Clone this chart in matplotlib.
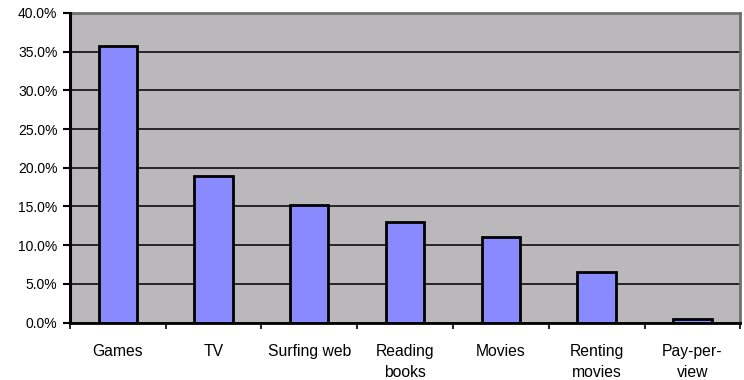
import matplotlib
matplotlib.use("Agg")
import matplotlib.pyplot as plt
from matplotlib.ticker import FuncFormatter, MultipleLocator

categories = ["Games", "TV", "Surfing web", "Reading\nbooks", "Movies", "Renting\nmovies", "Pay-per-\nview"]
shares = [35.7, 18.9, 15.2, 13.0, 11.1, 6.5, 0.5]

plt.rcParams["font.family"] = ["Liberation Sans", "DejaVu Sans"]

fig = plt.figure(figsize=(7.44, 3.80), dpi=100)
ax = fig.add_axes([0.094, 0.151, 0.901, 0.815])

x = range(len(categories))
ax.bar(x, shares, width=0.4, color="#8A8AFF", edgecolor="black", linewidth=2.0, zorder=3)

ax.set_facecolor("#BAB8BB")
ax.set_xlim(-0.5, len(categories) - 0.5)
ax.set_ylim(0, 40)
ax.yaxis.set_major_locator(MultipleLocator(5))
ax.yaxis.set_major_formatter(FuncFormatter(lambda v, p: f"{v:.1f}%"))
ax.grid(axis="y", color="#1a1a1a", linewidth=1.3, zorder=1)

# category boundaries as ticks, labels centred under each bar
ax.set_xticks([i - 0.5 for i in range(len(categories) + 1)])
ax.set_xticklabels([])
ax.set_xticks(list(x), minor=True)
ax.set_xticklabels(categories, minor=True, fontsize=11.3, linespacing=1.5)
ax.tick_params(axis="x", which="minor", length=0, pad=15.5)
ax.tick_params(axis="x", which="major", length=4, width=1.2, direction="out", color="black")
ax.tick_params(axis="y", length=5, width=1.5, direction="out", labelsize=10, pad=4, color="black")

for side in ("top", "right"):
    ax.spines[side].set_color("#707070")
    ax.spines[side].set_linewidth(2.0)
ax.spines["left"].set_color("black")
ax.spines["left"].set_linewidth(2.2)
ax.spines["bottom"].set_color("black")
ax.spines["bottom"].set_linewidth(2.0)
ax.spines["left"].set_zorder(4)
ax.spines["bottom"].set_zorder(4)

fig.savefig("out.png", dpi=100, facecolor="white")
